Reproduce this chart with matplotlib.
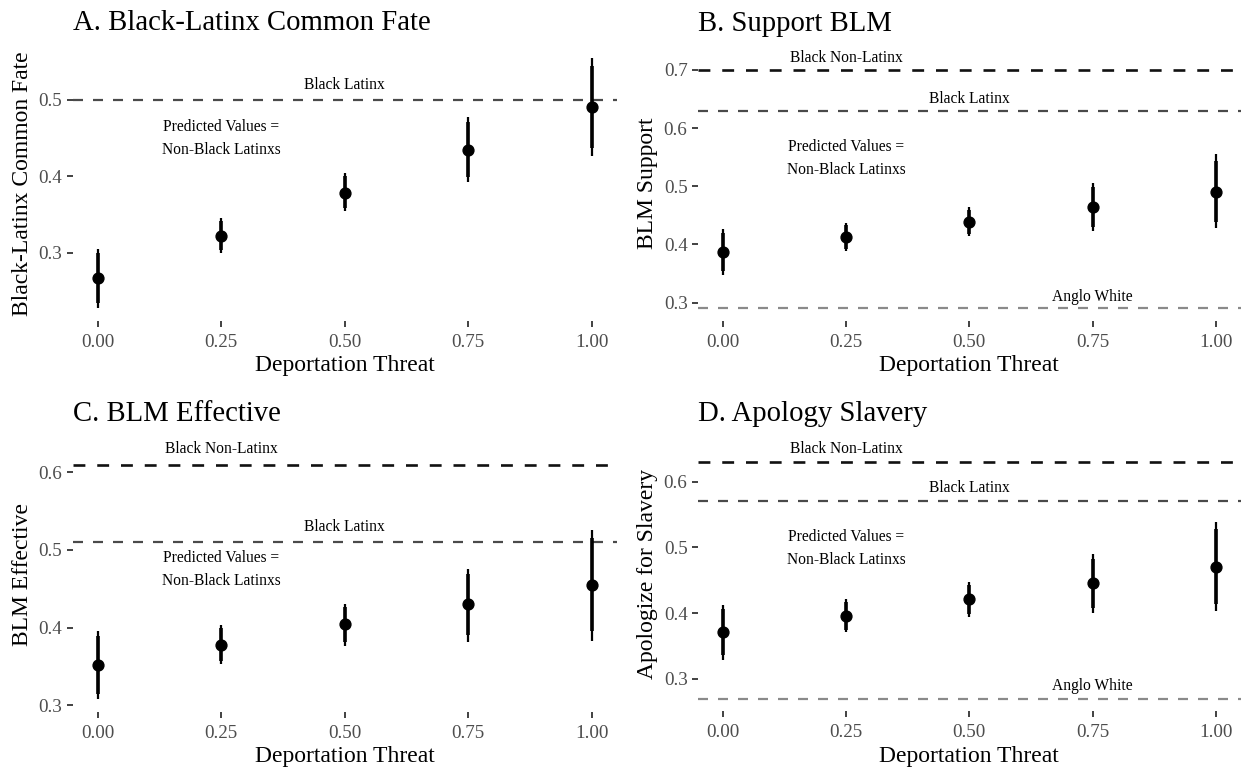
import numpy as np
import matplotlib
matplotlib.use("Agg")
import matplotlib.pyplot as plt

plt.rcParams['font.family'] = ['Liberation Serif', 'DejaVu Serif']

threat = [0.00, 0.25, 0.50, 0.75, 1.00]
threat_labels = ["0.00", "0.25", "0.50", "0.75", "1.00"]

# panel A: Black-Latinx common fate
fate_est = [0.267, 0.322, 0.378, 0.435, 0.491]
fate_lo95 = [0.227, 0.299, 0.354, 0.392, 0.427]
fate_hi95 = [0.305, 0.346, 0.405, 0.478, 0.555]
fate_lo90 = [0.234, 0.303, 0.358, 0.399, 0.437]
fate_hi90 = [0.300, 0.342, 0.400, 0.471, 0.545]
fate_refs = {"Black Latinx": 0.50}

# panel B: support BLM
support_est = [0.387, 0.413, 0.439, 0.465, 0.490]
support_lo95 = [0.347, 0.389, 0.414, 0.423, 0.428]
support_hi95 = [0.426, 0.437, 0.464, 0.506, 0.555]
support_lo90 = [0.354, 0.393, 0.418, 0.430, 0.438]
support_hi90 = [0.420, 0.433, 0.460, 0.499, 0.544]
support_refs = {"Black Non-Latinx": 0.70, "Black Latinx": 0.63, "Anglo White": 0.29}

# panel C: BLM effective
effective_est = [0.352, 0.378, 0.404, 0.430, 0.455]
effective_lo95 = [0.308, 0.353, 0.376, 0.382, 0.383]
effective_hi95 = [0.396, 0.403, 0.430, 0.476, 0.526]
effective_lo90 = [0.315, 0.357, 0.381, 0.390, 0.395]
effective_hi90 = [0.389, 0.399, 0.426, 0.469, 0.515]
effective_refs = {"Black Non-Latinx": 0.61, "Black Latinx": 0.51}

# panel D: apology for slavery
apology_est = [0.372, 0.396, 0.421, 0.446, 0.471]
apology_lo95 = [0.329, 0.371, 0.394, 0.400, 0.403]
apology_hi95 = [0.413, 0.421, 0.447, 0.490, 0.539]
apology_lo90 = [0.336, 0.375, 0.399, 0.408, 0.414]
apology_hi90 = [0.406, 0.417, 0.443, 0.483, 0.528]
apology_refs = {"Black Non-Latinx": 0.63, "Black Latinx": 0.57, "Anglo White": 0.27}

# where the group labels sit along x
ref_label_x = {"Black Non-Latinx": 0.25, "Black Latinx": 0.50, "Anglo White": 0.75}
ref_colors = {"Black Non-Latinx": "#111111", "Black Latinx": "#4a4a4a", "Anglo White": "#8a8a8a"}
ref_widths = {"Black Non-Latinx": 1.9, "Black Latinx": 1.6, "Anglo White": 1.6}
label_offset = 0.02

panels = [
    ("A. Black-Latinx Common Fate", "Black-Latinx Common Fate",
     fate_est, fate_lo95, fate_hi95, fate_lo90, fate_hi90, fate_refs, 0.449,
     [72.8, 45.4, 616.7, 321], [0.3, 0.4, 0.5]),
    ("B. Support BLM", "BLM Support",
     support_est, support_lo95, support_hi95, support_lo90, support_hi90, support_refs, 0.548,
     [698, 45.8, 1240.5, 321], [0.3, 0.4, 0.5, 0.6, 0.7]),
    ("C. BLM Effective", "BLM Effective",
     effective_est, effective_lo95, effective_hi95, effective_lo90, effective_hi90, effective_refs, 0.475,
     [72.8, 436.5, 616.7, 711.5], [0.3, 0.4, 0.5, 0.6]),
    ("D. Apology Slavery", "Apologize for Slavery",
     apology_est, apology_lo95, apology_hi95, apology_lo90, apology_hi90, apology_refs, 0.499,
     [698, 436.3, 1240.5, 711.2], [0.3, 0.4, 0.5, 0.6]),
]

W, H = 1248, 771
fig = plt.figure(figsize=(W / 100, H / 100), dpi=100)

for title, ylab, est, lo95, hi95, lo90, hi90, refs, pred_y, box, yticks in panels:
    l, t, r, b = box
    ax = fig.add_axes([l / W, 1 - b / H, (r - l) / W, (b - t) / H])

    # reference group means
    for name, val in refs.items():
        ax.axhline(val, color=ref_colors[name], lw=ref_widths[name],
                   linestyle=(0, (4.5, 4.5)), zorder=1)
        ax.text(ref_label_x[name], val + label_offset, name, ha='center',
                va='center', fontsize=11.2, color='black')

    ax.text(0.25, pred_y, "Predicted Values =\nNon-Black Latinxs", ha='center',
            va='center', fontsize=11.2, linespacing=1.6)

    # point ranges
    ax.vlines(threat, lo95, hi95, color='black', lw=1.6, zorder=3)
    ax.vlines(threat, lo90, hi90, color='black', lw=2.6, zorder=3)
    ax.plot(threat, est, 'o', color='black', ms=7.8, zorder=4)

    # y scale covers data, reference lines and labels, with 5% padding
    label_ys = [v + label_offset for v in refs.values()] + [pred_y]
    lo = min(min(lo95), min(refs.values()), min(label_ys))
    hi = max(max(hi95), max(refs.values()), max(label_ys))
    pad = (hi - lo) * 0.05
    ax.set_ylim(lo - pad, hi + pad)
    ax.set_xlim(-0.05, 1.05)

    ax.set_xticks(threat)
    ax.set_xticklabels(threat_labels)
    ax.set_yticks(yticks)
    ax.set_yticklabels([f"{v:.1f}" for v in yticks])

    for s in ax.spines.values():
        s.set_visible(False)
    ax.tick_params(axis='both', length=4.5, width=1.3, color='#333333',
                   labelcolor='#4d4d4d', labelsize=13.8)
    ax.tick_params(axis='x', pad=5)
    ax.tick_params(axis='y', pad=3)

    ax.set_xlabel("Deportation Threat", fontsize=17, labelpad=3)
    ax.set_ylabel(ylab, fontsize=17, labelpad=4)
    ax.set_title(title, loc='left', fontsize=20.7, pad=11)

fig.savefig("out.png", dpi=100)
